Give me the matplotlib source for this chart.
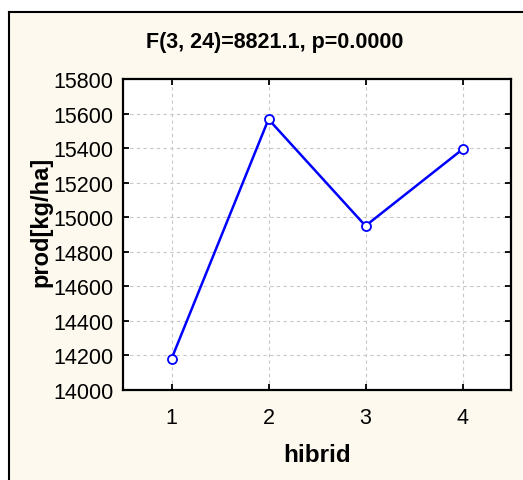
import matplotlib
matplotlib.use("Agg")
import matplotlib.pyplot as plt
from matplotlib.patches import Rectangle
from matplotlib.lines import Line2D

# Data
hibrid = [1, 2, 3, 4]
prod = [14180, 15567, 14950, 15393]
yticks = list(range(14000, 15801, 200))
title = "F(3, 24)=8821.1, p=0.0000"
xlabel = "hibrid"
ylabel = "prod[kg/ha]"

plt.rcParams['font.family'] = ['Liberation Sans', 'DejaVu Sans']

W, H = 523, 481
fig = plt.figure(figsize=(W / 100, H / 100), dpi=100, facecolor='white')

cream = '#FDF9EE'
# outer framed panel
fig.patches.append(Rectangle((9 / W, -0.1), 1.2, 1 - 13 / H + 0.1,
                             transform=fig.transFigure, facecolor=cream,
                             edgecolor='none', zorder=-10))
fig.lines.append(Line2D([9 / W, 9 / W], [-0.1, 1 - 13 / H], transform=fig.transFigure,
                        color='black', lw=1.5, zorder=-5))
fig.lines.append(Line2D([9 / W, 1.1], [1 - 13 / H, 1 - 13 / H], transform=fig.transFigure,
                        color='black', lw=1.5, zorder=-5))

left, right = 123 / W, 511 / W
bottom, top = 1 - 391 / H, 1 - 80 / H
ax = fig.add_axes([left, bottom, right - left, top - bottom])
ax.set_zorder(1)
ax.set_facecolor('white')

ax.plot(hibrid, prod, color='#0000FF', lw=1.8, marker='o', markersize=6.5,
        markerfacecolor='white', markeredgecolor='#0000FF', markeredgewidth=1.3,
        zorder=3)

ax.set_xlim(0.5, 4.5)
ax.set_ylim(14000, 15800)
ax.set_xticks(hibrid)
ax.set_yticks(yticks)

ax.grid(True, color='#C8C8C8', linestyle=(0, (3, 3)), linewidth=0.8)
ax.set_axisbelow(True)

for s in ax.spines.values():
    s.set_linewidth(1.6)
    s.set_color('black')

ax.tick_params(axis='both', which='both', direction='in', length=4, width=1.3,
               top=True, right=True, labelsize=15.5, colors='black')
ax.tick_params(axis='x', pad=12)
ax.tick_params(axis='y', pad=7)

ax.set_xlabel(xlabel, fontsize=17.5, fontweight='bold')
ax.xaxis.set_label_coords(0.5, -0.17)
ax.set_ylabel(ylabel, fontsize=17, fontweight='bold')
ax.yaxis.set_label_coords(-0.183, 0.5435)

ax.set_title(title, fontsize=15.5, fontweight='bold', x=(275 - 123) / 388,
             y=1.1028, pad=0)

fig.savefig('out.png', dpi=100, facecolor='white')
